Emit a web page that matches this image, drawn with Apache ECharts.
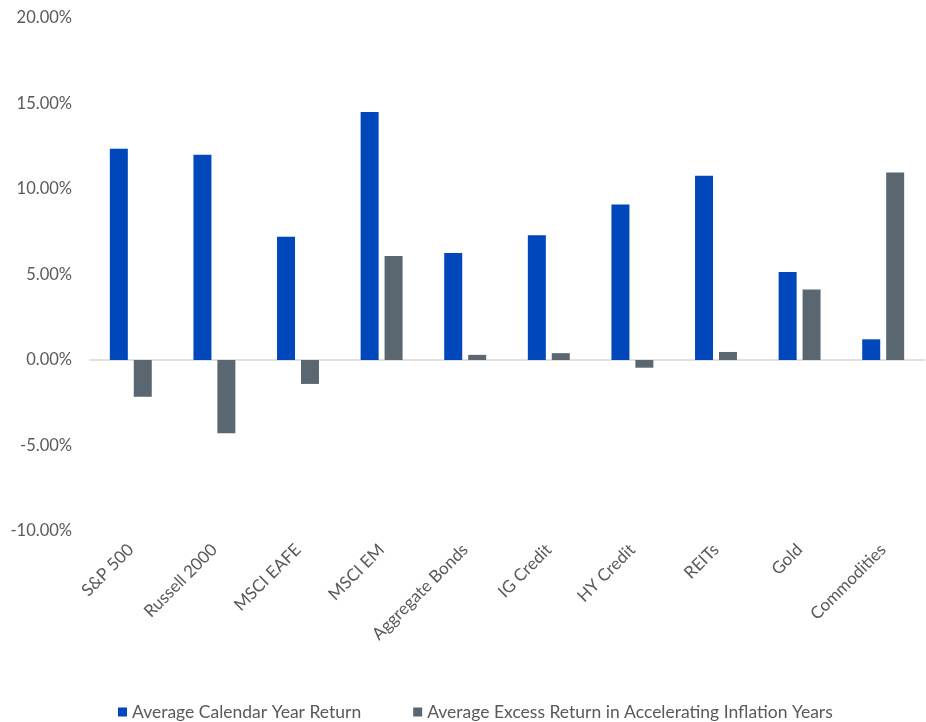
<!DOCTYPE html>
<html>
<head>
<meta charset="utf-8">
<script src="https://cdn.jsdelivr.net/npm/echarts@6/dist/echarts.min.js"></script>
<style>
html,body{margin:0;padding:0;background:#fff;}
#chart{width:926px;height:722px;}
</style>
</head>
<body>
<div id="chart"></div>
<script>
const categories = ['S&P 500','Russell 2000','MSCI EAFE','MSCI EM','Aggregate Bonds','IG Credit','HY Credit','REITs','Gold','Commodities'];
const calendarReturn = [12.36, 12.00, 7.21, 14.50, 6.26, 7.30, 9.10, 10.78, 5.15, 1.21];
const excessReturn = [-2.15, -4.29, -1.40, 6.08, 0.30, 0.40, -0.45, 0.47, 4.13, 10.97];
const seriesNames = ['Average Calendar Year Return','Average Excess Return in Accelerating Inflation Years'];
const yTicks = {min: -10, max: 20, interval: 5};

const FONT = 'Lato';
const chart = echarts.init(document.getElementById('chart'));
chart.setOption({
  backgroundColor: '#ffffff',
  animation: false,
  textStyle: {fontFamily: FONT},
  grid: {left: 89, right: 1, top: 18, bottom: 191},
  legend: {
    left: 113, top: 698,
    itemWidth: 9, itemHeight: 9, itemGap: 52,
    icon: 'rect',
    textStyle: {color: '#595959', fontSize: 17.5, fontFamily: FONT},
    data: seriesNames
  },
  xAxis: {
    type: 'category',
    data: categories,
    axisLine: {show: false},
    axisTick: {show: false},
    axisLabel: {rotate: 45, color: '#595959', fontSize: 17, margin: 16, interval: 0, fontFamily: FONT}
  },
  yAxis: {
    type: 'value',
    min: yTicks.min, max: yTicks.max, interval: yTicks.interval,
    axisLine: {show: false},
    axisTick: {show: false},
    axisLabel: {color: '#595959', fontSize: 16.5, margin: 17, fontFamily: FONT,
      formatter: v => v.toFixed(2) + '%'},
    splitLine: {show: true, lineStyle: {width: 1.5, color: ['rgba(0,0,0,0)','rgba(0,0,0,0)','#d9d9d9','rgba(0,0,0,0)','rgba(0,0,0,0)','rgba(0,0,0,0)','rgba(0,0,0,0)']}}
  },
  series: [
    {name: seriesNames[0], type: 'bar', data: calendarReturn, barWidth: 18, barGap: '33%',
     itemStyle: {color: '#0047BB'}},
    {name: seriesNames[1], type: 'bar', data: excessReturn, barWidth: 18,
     itemStyle: {color: '#5B6770'}}
  ]
});
</script>
</body>
</html>
